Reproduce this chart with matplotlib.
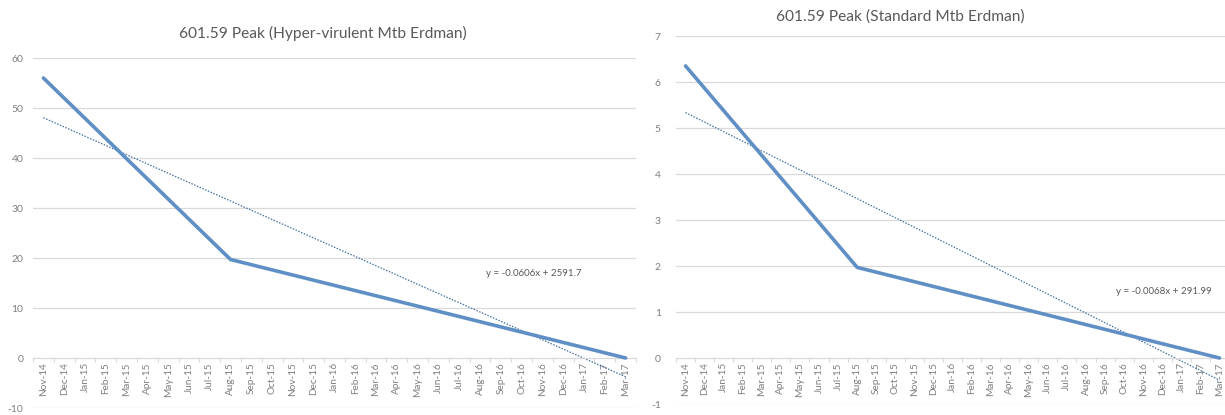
import numpy as np
import matplotlib
matplotlib.use("Agg")
import matplotlib.pyplot as plt

plt.rcParams['font.family'] = ['Lato', 'DejaVu Sans']

# Monthly category axis
months = ["Nov-14", "Dec-14", "Jan-15", "Feb-15", "Mar-15", "Apr-15", "May-15",
          "Jun-15", "Jul-15", "Aug-15", "Sep-15", "Oct-15", "Nov-15", "Dec-15",
          "Jan-16", "Feb-16", "Mar-16", "Apr-16", "May-16", "Jun-16", "Jul-16",
          "Aug-16", "Sep-16", "Oct-16", "Nov-16", "Dec-16", "Jan-17", "Feb-17",
          "Mar-17"]

# Sampling dates and peak intensities
sample_months = ["Nov-14", "Aug-15", "Mar-17"]
hyper_values = [56.0, 19.7, 0.0]
standard_values = [6.35, 1.97, 0.0]

hyper_title = "601.59 Peak (Hyper-virulent Mtb Erdman)"
standard_title = "601.59 Peak (Standard Mtb Erdman)"
hyper_eq = "y = -0.0606x + 2591.7"
standard_eq = "y = -0.0068x + 291.99"

LINE = "#5f8fc4"
TREND = "#44709f"
GRID = "#d9d9d9"
TXT = "#595959"
TICK = "#7f7f7f"

W, H = 1225, 415
fig = plt.figure(figsize=(W / 100, H / 100), dpi=100)


def px_axes(x0, x1, ytop, ybot):
    return fig.add_axes([x0 / W, (H - ybot) / H, (x1 - x0) / W, (ybot - ytop) / H])


def draw(ax, values, ylim, ystep, eq, eq_xy, ypad):
    xi = np.array([months.index(m) for m in sample_months], dtype=float)
    yv = np.array(values)
    ax.plot(xi, yv, color=LINE, lw=2.6, solid_capstyle='round', zorder=3)
    # least-squares trend line across the whole period
    slope, icpt = np.polyfit(xi, yv, 1)
    xt = np.array([0, len(months) - 1], dtype=float)
    ax.plot(xt, slope * xt + icpt, color=TREND, lw=0.9, ls=(0, (1.2, 1.2)), zorder=2)

    ax.set_xlim(-0.5, len(months) - 0.5)
    ax.set_ylim(*ylim)
    yt = np.arange(ylim[0], ylim[1] + ystep / 2, ystep)
    ax.set_yticks(yt)
    ax.set_yticklabels([f"{v:g}" for v in yt])
    for v in yt:
        if v != 0:
            ax.axhline(v, color=GRID, lw=0.9, zorder=0)
    for s in ['top', 'right', 'left']:
        ax.spines[s].set_visible(False)
    ax.spines['bottom'].set_position(('data', 0))
    ax.spines['bottom'].set_color(GRID)
    ax.spines['bottom'].set_linewidth(0.9)
    ax.set_xticks(np.arange(len(months)))
    ax.set_xticklabels(months, rotation=90, fontsize=7.2, color=TICK)
    ax.set_xticks(np.arange(len(months) + 1) - 0.5, minor=True)
    ax.tick_params(axis='x', which='major', length=0, pad=3)
    ax.tick_params(axis='x', which='minor', length=3, color=GRID, width=0.8)
    ax.tick_params(axis='y', length=0, pad=ypad, labelsize=7.5, labelcolor=TICK)
    ax.patch.set_alpha(0)
    fig.text(eq_xy[0] / W, 1 - eq_xy[1] / H, eq, fontsize=7, color=TXT,
             ha='left', va='center')


ax1 = px_axes(33, 636, 58, 408)
draw(ax1, hyper_values, (-10, 60), 10, hyper_eq, (486, 273), 7)
fig.text(323 / W, 1 - 33 / H, hyper_title, fontsize=11.2, color=TXT, ha='center', va='center')

ax2 = px_axes(676, 1229, 36, 404)
draw(ax2, standard_values, (-1, 7), 1, standard_eq, (1116, 292), 11)
fig.text(900 / W, 1 - 17 / H, standard_title, fontsize=11.2, color=TXT, ha='center', va='center')

fig.savefig("out.png", dpi=100, facecolor="white")
